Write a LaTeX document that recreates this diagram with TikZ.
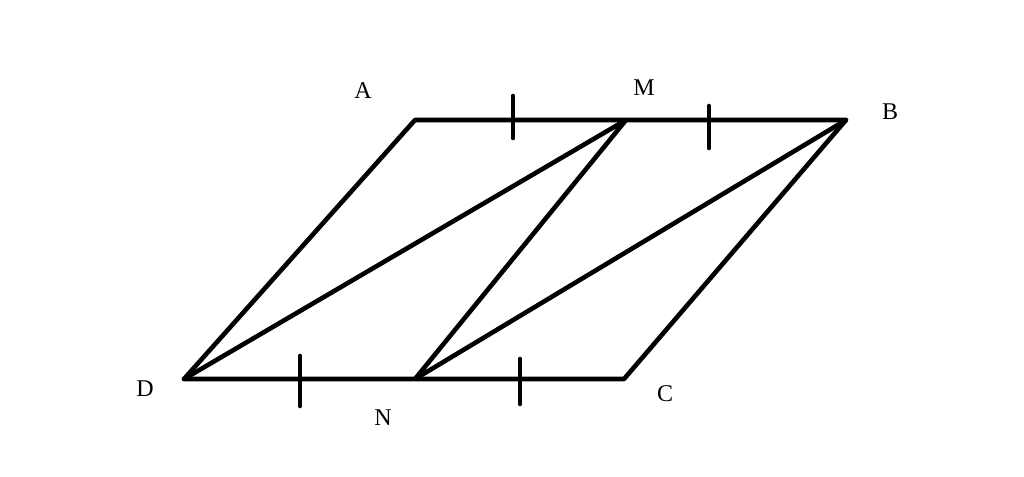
\documentclass[tikz,border=0pt]{standalone}
\usepackage{fontspec}
\setmainfont{Liberation Serif}
\begin{document}
\begin{tikzpicture}[x=1pt,y=-1pt,
  seg/.style={line width=4.6pt,line cap=round,line join=round},
  lbl/.style={font=\fontsize{24}{27}\selectfont,inner sep=0pt}]
\useasboundingbox (0,0) rectangle (1024,476);
\fill[white] (0,0) rectangle (1024,476);
\coordinate (A) at (415,120);
\coordinate (M) at (626,120);
\coordinate (B) at (846,120);
\coordinate (D) at (184,379);
\coordinate (N) at (415,379);
\coordinate (C) at (624,379);
\draw[seg] (D) -- (A) -- (B) -- (C) -- (D);
\draw[seg] (D) -- (M) -- (N) -- (B);
% tick marks
\coordinate (t1a) at (513,96); \coordinate (t1b) at (513,138);
\coordinate (t2a) at (709,106); \coordinate (t2b) at (709,148);
\coordinate (t3a) at (300,356); \coordinate (t3b) at (300,406);
\coordinate (t4a) at (520,359); \coordinate (t4b) at (520,404);
\draw[seg] (t1a) -- (t1b);
\draw[seg] (t2a) -- (t2b);
\draw[seg] (t3a) -- (t3b);
\draw[seg] (t4a) -- (t4b);
\node[lbl] (lA) at (363,91) {A};
\node[lbl] (lM) at (644,88) {M};
\node[lbl] (lB) at (890,112) {B};
\node[lbl] (lD) at (145,389) {D};
\node[lbl] (lN) at (383,418) {N};
\node[lbl] (lC) at (665,394) {C};
\end{tikzpicture}
\end{document}
